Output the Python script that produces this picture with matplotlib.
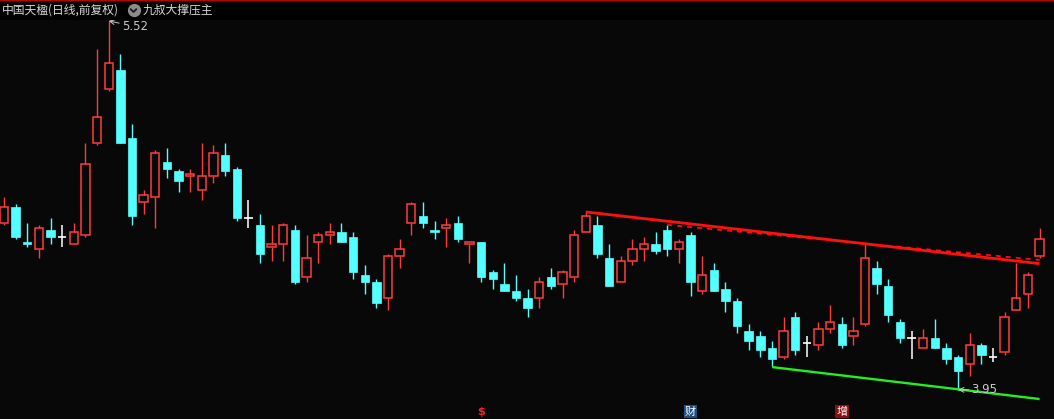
import matplotlib.pyplot as plt
from matplotlib.patches import Rectangle

plt.rcParams['font.family'] = ['Noto Sans CJK SC', 'DejaVu Sans']

# 日K数据 (开 高 低 收)
opens = [4.66, 4.73, 4.58, 4.55, 4.63, 4.60, 4.57, 4.61, 5.00, 5.23,
         5.31, 5.02, 4.75, 4.77, 4.92, 4.88, 4.86, 4.80, 4.86, 4.95,
         4.89, 4.68, 4.65, 4.56, 4.57, 4.63, 4.43, 4.58, 4.61, 4.62,
         4.60, 4.44, 4.41, 4.34, 4.52, 4.66, 4.69, 4.63, 4.64, 4.66,
         4.57, 4.58, 4.45, 4.40, 4.37, 4.34, 4.34, 4.43, 4.40, 4.43,
         4.62, 4.65, 4.51, 4.41, 4.50, 4.55, 4.57, 4.63, 4.55, 4.61,
         4.37, 4.46, 4.38, 4.33, 4.20, 4.18, 4.13, 4.09, 4.26, 4.15,
         4.14, 4.21, 4.23, 4.18, 4.23, 4.47, 4.39, 4.24, 4.17, 4.13,
         4.17, 4.13, 4.09, 4.06, 4.14, 4.09, 4.11, 4.29, 4.36, 4.52]
highs = [4.77, 4.74, 4.66, 4.65, 4.68, 4.65, 4.66, 5.00, 5.40, 5.52,
         5.38, 5.08, 4.80, 4.97, 4.98, 4.89, 4.89, 5.00, 4.99, 5.00,
         4.90, 4.76, 4.70, 4.65, 4.66, 4.65, 4.61, 4.62, 4.66, 4.66,
         4.62, 4.48, 4.42, 4.53, 4.59, 4.75, 4.75, 4.67, 4.68, 4.69,
         4.58, 4.58, 4.46, 4.49, 4.44, 4.38, 4.43, 4.47, 4.46, 4.63,
         4.71, 4.69, 4.57, 4.52, 4.59, 4.60, 4.62, 4.65, 4.59, 4.62,
         4.52, 4.49, 4.41, 4.34, 4.23, 4.20, 4.16, 4.26, 4.28, 4.18,
         4.24, 4.31, 4.26, 4.26, 4.57, 4.50, 4.42, 4.25, 4.20, 4.21,
         4.25, 4.15, 4.10, 4.19, 4.15, 4.13, 4.28, 4.49, 4.45, 4.64]
lows = [4.65, 4.59, 4.56, 4.51, 4.57, 4.56, 4.57, 4.60, 4.99, 5.22,
        5.00, 4.65, 4.70, 4.64, 4.85, 4.79, 4.79, 4.76, 4.83, 4.86,
        4.67, 4.64, 4.49, 4.50, 4.50, 4.40, 4.41, 4.49, 4.57, 4.58,
        4.42, 4.36, 4.30, 4.29, 4.47, 4.61, 4.64, 4.59, 4.56, 4.58,
        4.49, 4.41, 4.38, 4.37, 4.33, 4.26, 4.30, 4.38, 4.34, 4.41,
        4.62, 4.51, 4.39, 4.41, 4.48, 4.50, 4.53, 4.52, 4.49, 4.35,
        4.36, 4.37, 4.28, 4.19, 4.12, 4.09, 4.05, 4.08, 4.10, 4.09,
        4.12, 4.19, 4.13, 4.14, 4.22, 4.36, 4.24, 4.15, 4.08, 4.13,
        4.13, 4.06, 3.95, 4.01, 4.06, 4.07, 4.10, 4.29, 4.30, 4.51]
closes = [4.73, 4.60, 4.57, 4.64, 4.60, 4.60, 4.62, 4.91, 5.11, 5.34,
          5.00, 4.69, 4.78, 4.96, 4.89, 4.84, 4.87, 4.86, 4.96, 4.88,
          4.68, 4.68, 4.53, 4.57, 4.65, 4.41, 4.51, 4.61, 4.62, 4.58,
          4.45, 4.41, 4.32, 4.52, 4.55, 4.74, 4.66, 4.62, 4.65, 4.59,
          4.58, 4.43, 4.42, 4.37, 4.34, 4.30, 4.41, 4.39, 4.45, 4.61,
          4.69, 4.53, 4.39, 4.50, 4.55, 4.57, 4.54, 4.55, 4.58, 4.41,
          4.44, 4.37, 4.33, 4.22, 4.16, 4.12, 4.08, 4.20, 4.12, 4.15,
          4.21, 4.24, 4.14, 4.20, 4.51, 4.40, 4.27, 4.17, 4.17, 4.17,
          4.13, 4.08, 4.03, 4.14, 4.10, 4.09, 4.26, 4.34, 4.44, 4.59]

# 九叔大撑压主 线段 (起止K线序号, 价格)
press_x = [50, 89]
press_y = [4.707, 4.487]
press2_x = [57, 89]
press2_y = [4.652, 4.503]
support_x = [66, 89]
support_y = [4.047, 3.911]

# 底部信息地雷
marks = [(41, '$'), (59, '财'), (72, '增')]

RED = '#ff3c3c'
CYAN = '#54ffff'
W, H = 1054, 419

fig = plt.figure(figsize=(W / 100, H / 100), dpi=100, facecolor='#080808')
ax = fig.add_axes([0, 0, 1, 1])
ax.set_facecolor('#080808')
ax.set_xlim(-0.344, 90.24)
ax.set_ylim(3.826, 5.609)
ax.axis('off')

bw = 0.72
for i, (o, h, l, c) in enumerate(zip(opens, highs, lows, closes)):
    if c > o:
        ax.vlines(i, c, h, color=RED, lw=1.0)
        ax.vlines(i, l, o, color=RED, lw=1.0)
        ax.add_patch(Rectangle((i - bw / 2, o), bw, c - o, fill=False,
                               ec=RED, lw=1.1))
    elif c < o:
        ax.vlines(i, l, h, color=CYAN, lw=1.0)
        ax.add_patch(Rectangle((i - bw / 2, c), bw, o - c, fc=CYAN,
                               ec=CYAN, lw=0.5))
    else:
        ax.vlines(i, l, h, color='white', lw=1.1)
        ax.hlines(o, i - bw / 2, i + bw / 2, color='white', lw=1.2)

# 压力 / 支撑线
ax.plot(press_x, press_y, color='#ff1010', lw=2.0, solid_capstyle='butt')
ax.plot(press2_x, press2_y, color='#ff1010', lw=1.2, ls=(0, (3, 3)))
ax.plot(support_x, support_y, color='#22ee22', lw=1.7, solid_capstyle='butt')

# 最高 / 最低 标注
hi = highs.index(max(highs))
lo = lows.index(min(lows))
ax.annotate(f'{max(highs):.2f}', xy=(hi, max(highs)), xytext=(9.5, -4),
            textcoords='offset points', color='#c8c8c8', fontsize=8.5,
            va='center', family='DejaVu Sans',
            arrowprops=dict(arrowstyle='->', color='#c8c8c8', lw=0.7,
                            shrinkA=0, shrinkB=0))
ax.annotate(f'{min(lows):.2f}', xy=(lo, min(lows)), xytext=(9.5, 0),
            textcoords='offset points', color='#c8c8c8', fontsize=8.5,
            va='center', family='DejaVu Sans',
            arrowprops=dict(arrowstyle='->', color='#c8c8c8', lw=0.7,
                            shrinkA=0, shrinkB=0))

# 底部标记
trans = ax.get_xaxis_transform()
for x, s in marks:
    if s == '$':
        ax.text(x, 1 - 412 / H, s, transform=trans, color='#ff2020',
                fontsize=8, ha='center', va='center', fontweight='bold',
                family='DejaVu Sans')
    else:
        fc = '#1d4f80' if s == '财' else '#8a1010'
        ax.text(x, 1 - 411.5 / H, s, transform=trans, color='white',
                fontsize=8, ha='center', va='center',
                bbox=dict(boxstyle='square,pad=0.12', fc=fc, ec='none'))

# 标题栏
fig.add_artist(Rectangle((0, 1 - 20 / H), 1, 20 / H, transform=fig.transFigure,
                         fc='#000000', ec='none'))
fig.add_artist(Rectangle((0, 1 - 1.5 / H), 1, 1.5 / H, transform=fig.transFigure,
                         fc='#c00000', ec='none'))
fig.text(2 / W, 1 - 10.5 / H, '中国天楹(日线,前复权)', color='#d8d8d8',
         fontsize=8.5, va='center')
fig.add_artist(plt.Line2D([133.5 / W], [1 - 10.5 / H], transform=fig.transFigure,
                          marker='o', markersize=8.5, color='#8c8c8c', lw=0))
fig.add_artist(plt.Line2D([130.8 / W, 133.5 / W, 136.2 / W],
                          [1 - 9.3 / H, 1 - 12 / H, 1 - 9.3 / H],
                          transform=fig.transFigure, color='#1a1a1a', lw=1.3))
fig.text(143 / W, 1 - 10.5 / H, '九叔大撑压主', color='#d8d8d8',
         fontsize=8.5, va='center')

fig.savefig('out.png', dpi=100, facecolor=fig.get_facecolor())
